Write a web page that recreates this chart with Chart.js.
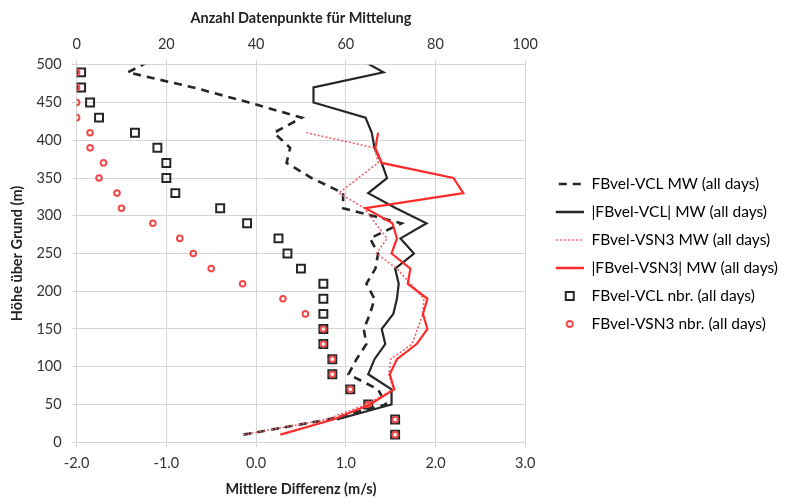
<!DOCTYPE html>
<html>
<head>
<meta charset="utf-8">
<script src="https://cdn.jsdelivr.net/npm/chart.js@4/dist/chart.umd.min.js"></script>
<style>
  html, body { margin: 0; padding: 0; background: #fff; }
</style>
</head>
<body>
<canvas id="chart" width="788" height="498"></canvas>
<script>
// heights of the 20 m bins (m); 510 lies above the axis and gets clipped
const heights = [10, 30, 50, 70, 90, 110, 130, 150, 170, 190, 210, 230, 250,
  270, 290, 310, 330, 350, 370, 390, 410, 430, 450, 470, 490, 510];

// mean differences (m/s), bottom axis
const vclMean = [-0.14, 0.80, 1.45, 1.36, 1.03, 1.12, 1.23, 1.20, 1.27, 1.32, 1.23, 1.33, 1.36,
  1.27, 1.62, 0.97, 0.97, 0.62, 0.34, 0.38, 0.20, 0.51, -0.08, -0.70, -1.43, -1.10];
const vclAbs = [null, 0.90, 1.51, 1.51, 1.25, 1.32, 1.44, 1.40, 1.53, 1.57, 1.59, 1.55, 1.76,
  1.61, 1.90, 1.56, 1.25, 1.46, 1.40, 1.32, 1.29, 1.22, 0.64, 0.64, 1.42, 1.12];
const vsnMean = [-0.14, 0.78, 1.23, 1.53, 1.48, 1.50, 1.74, 1.80, 1.86, 1.87, 1.72, 1.57, 1.34,
  1.46, 1.33, 1.21, 0.92, 1.14, 1.36, 1.32, 0.56, null, null, null, null, null];
const vsnAbs = [0.27, 0.86, 1.27, 1.54, 1.49, 1.57, 1.79, 1.91, 1.86, 1.91, 1.69, 1.72, 1.51,
  1.57, 1.52, 1.22, 2.31, 2.20, 1.40, 1.33, 1.36, null, null, null, null, null];

// number of data points used for the mean, top axis
const vclCount = [71, 71, 65, 61, 57, 57, 55, 55, 55, 55, 55, 50, 47,
  45, 38, 32, 22, 20, 20, 18, 13, 5, 3, 1, 1];
const vsnCount = [71, 71, 65, 61, 57, 57, 55, 55, 51, 46, 37, 30, 26,
  23, 17, 10, 9, 5, 6, 3, 3, 0, 0, 0, 0];

const diffTicks = [-2, -1, 0, 1, 2, 3];
const countTicks = [0, 20, 40, 60, 80, 100];
const heightTicks = [0, 50, 100, 150, 200, 250, 300, 350, 400, 450, 500];

const toPoints = (vals) => vals
  .map((v, i) => ({ x: v, y: heights[i] }))
  .filter(p => p.x !== null);

const BLACK = '#262626';
const RED = '#ff2a2a';
const RED_DOT = '#f0606a';
const RED_MARK = '#ef4a4a';

// legend pictures: 46 px wide, symbol sits in the right 28 px
function legendIcon(kind, color) {
  const c = document.createElement('canvas');
  c.width = 46; c.height = 12;
  const g = c.getContext('2d');
  g.strokeStyle = color;
  if (kind === 'rect') {
    g.lineWidth = 2;
    g.strokeRect(28, 2, 8, 8);
  } else if (kind === 'circle') {
    g.lineWidth = 2;
    g.beginPath(); g.arc(32, 6, 3, 0, Math.PI * 2); g.stroke();
  } else {
    g.lineWidth = kind === 'dot' ? 1.5 : 2.5;
    g.setLineDash(kind === 'dash' ? [8, 6] : kind === 'dot' ? [2, 2] : []);
    g.beginPath(); g.moveTo(kind === 'dash' ? 21 : 18, 6); g.lineTo(46, 6); g.stroke();
  }
  return c;
}

function draw() {
  const icons = [
    legendIcon('dash', BLACK), legendIcon('solid', BLACK),
    legendIcon('dot', RED_DOT), legendIcon('solid', RED),
    legendIcon('rect', BLACK), legendIcon('circle', RED_MARK)
  ];

  const font = { family: 'Lato', size: 14.5 };
  const legendFont = { family: 'Lato', size: 15.5 };
  const boldFont = { family: 'Lato', size: 14.5, weight: 'bold' };
  const gridColor = '#d6d6d6';

  new Chart(document.getElementById('chart'), {
    type: 'scatter',
    data: {
      datasets: [
        {
          label: 'FBvel-VCL MW (all days)',
          data: toPoints(vclMean),
          showLine: true, borderColor: BLACK, borderWidth: 2.6, borderDash: [8, 6],
          pointRadius: 0, xAxisID: 'x', order: 4
        },
        {
          label: '|FBvel-VCL| MW (all days)',
          data: toPoints(vclAbs),
          showLine: true, borderColor: BLACK, borderWidth: 2.2,
          pointRadius: 0, xAxisID: 'x', order: 3
        },
        {
          label: 'FBvel-VSN3 MW (all days)',
          data: toPoints(vsnMean),
          showLine: true, borderColor: RED_DOT, borderWidth: 1.6, borderDash: [2, 2],
          pointRadius: 0, xAxisID: 'x', order: 2
        },
        {
          label: '|FBvel-VSN3| MW (all days)',
          data: toPoints(vsnAbs),
          showLine: true, borderColor: RED, borderWidth: 2.2,
          pointRadius: 0, xAxisID: 'x', order: 1
        },
        {
          label: 'FBvel-VCL nbr. (all days)',
          data: vclCount.map((v, i) => ({ x: v, y: heights[i] })),
          pointStyle: 'rect', pointRadius: 5.6, borderWidth: 2,
          borderColor: BLACK, backgroundColor: 'rgba(255,255,255,0)',
          xAxisID: 'x2', order: 6
        },
        {
          label: 'FBvel-VSN3 nbr. (all days)',
          data: vsnCount.map((v, i) => ({ x: v, y: heights[i] })),
          pointStyle: 'circle', pointRadius: 2.8, borderWidth: 2,
          borderColor: RED_MARK, backgroundColor: 'rgba(255,255,255,0)',
          xAxisID: 'x2', order: 5
        }
      ]
    },
    options: {
      responsive: false,
      animation: false,
      layout: { padding: { left: 9, right: 0, top: 10, bottom: 0 } },
      plugins: {
        tooltip: { enabled: false },
        legend: {
          position: 'right',
          align: 'center',
          maxWidth: 300,
          labels: {
            usePointStyle: true,
            pointStyleWidth: 46,
            boxHeight: 12,
            padding: 12.5,
            color: '#222',
            font: legendFont,
            generateLabels: (chart) => chart.data.datasets.map((ds, i) => ({
              text: ds.label,
              pointStyle: icons[i],
              fillStyle: 'transparent',
              strokeStyle: 'transparent',
              lineWidth: 0,
              hidden: false,
              datasetIndex: i
            }))
          }
        }
      },
      scales: {
        x: {
          type: 'linear', position: 'bottom', min: -2, max: 3,
          afterBuildTicks: (axis) => { axis.ticks = diffTicks.map(v => ({ value: v })); },
          ticks: { callback: v => v.toFixed(1), color: '#333', font: font, padding: 7 },
          grid: { color: gridColor, tickLength: 5 },
          border: { color: gridColor },
          title: { display: true, text: 'Mittlere Differenz (m/s)', color: '#222', font: boldFont, padding: { top: 2, bottom: 0 } }
        },
        x2: {
          type: 'linear', position: 'top', min: 0, max: 100,
          afterBuildTicks: (axis) => { axis.ticks = countTicks.map(v => ({ value: v })); },
          ticks: { color: '#333', font: font, padding: 7 },
          grid: { drawOnChartArea: false, color: gridColor, tickLength: 5 },
          border: { display: false },
          title: { display: true, text: 'Anzahl Datenpunkte für Mittelung', color: '#222', font: boldFont, padding: { top: 0, bottom: 1 } }
        },
        y: {
          type: 'linear', min: 0, max: 500,
          afterBuildTicks: (axis) => { axis.ticks = heightTicks.map(v => ({ value: v })); },
          ticks: { color: '#333', font: font, padding: 10 },
          grid: { color: gridColor, tickLength: 5 },
          border: { color: gridColor },
          title: { display: true, text: 'Höhe über Grund (m)', color: '#222', font: boldFont, padding: { top: 0, bottom: 0 } }
        }
      }
    }
  });
}

Promise.all([
  document.fonts.load('14.5px Lato'),
  document.fonts.load('15.5px Lato'),
  document.fonts.load('bold 14.5px Lato')
]).then(draw, draw);
</script>
</body>
</html>
